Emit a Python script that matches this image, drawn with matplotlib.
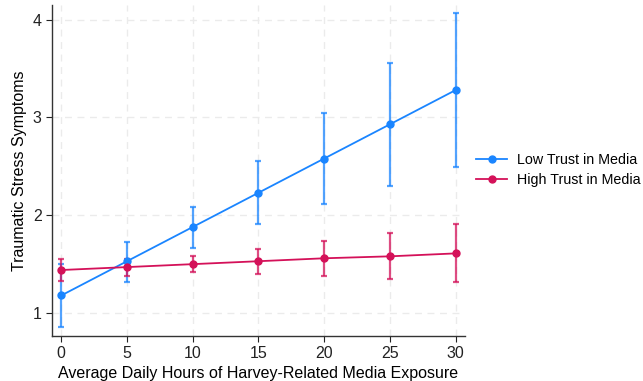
import matplotlib
matplotlib.use("Agg")
import matplotlib.pyplot as plt
import numpy as np

plt.rcParams['font.family'] = ['Liberation Sans', 'DejaVu Sans']

hours = [0, 5, 10, 15, 20, 25, 30]
low_mean = [1.18, 1.53, 1.88, 2.23, 2.58, 2.93, 3.28]
low_lo = [0.86, 1.32, 1.67, 1.91, 2.11, 2.30, 2.49]
low_hi = [1.50, 1.73, 2.08, 2.55, 3.05, 3.56, 4.07]
high_mean = [1.44, 1.47, 1.50, 1.53, 1.56, 1.58, 1.61]
high_lo = [1.33, 1.38, 1.42, 1.40, 1.38, 1.35, 1.32]
high_hi = [1.55, 1.55, 1.58, 1.65, 1.74, 1.82, 1.91]

blue = '#1a85ff'
red = '#d41159'

fig = plt.figure(figsize=(6.43, 3.81), dpi=100)
ax = fig.add_axes([0.081, 0.118, 0.642, 0.869])

for mean, lo, hi, col, lab in [(low_mean, low_lo, low_hi, blue, 'Low Trust in Media'),
                               (high_mean, high_lo, high_hi, red, 'High Trust in Media')]:
    m = np.array(mean); l = np.array(lo); h = np.array(hi)
    ax.errorbar(hours, m, yerr=[m - l, h - m], fmt='none', ecolor=col, alpha=0.75,
                elinewidth=1.6, capsize=2.3, capthick=1.6, zorder=2)
    ax.plot(hours, m, '-o', color=col, lw=1.3, ms=5, label=lab, zorder=3)

ax.set_xlim(-0.7, 30.7)
ax.set_ylim(0.765, 4.15)
ax.set_xticks([0, 5, 10, 15, 20, 25, 30])
ax.set_yticks([1, 2, 3, 4])
ax.grid(True, color='#ebebeb', linestyle=(0, (5, 4)), lw=1.0)
ax.set_axisbelow(True)
for s in ['top', 'right']:
    ax.spines[s].set_visible(False)
for s in ['left', 'bottom']:
    ax.spines[s].set_color('#333333')
    ax.spines[s].set_linewidth(1.0)
ax.tick_params(direction='out', length=4, width=0.8, labelsize=11.5, colors='#222222')
ax.set_xlabel('Average Daily Hours of Harvey-Related Media Exposure', fontsize=11.5, labelpad=3)
ax.set_ylabel('Traumatic Stress Symptoms', fontsize=11.5, labelpad=4)

ax.legend(loc='center left', bbox_to_anchor=(476 / 643, 1 - 170 / 381),
          bbox_transform=fig.transFigure, frameon=False, fontsize=10.3,
          borderaxespad=0, borderpad=0,
          handlelength=2.2, handletextpad=0.7, labelspacing=0.45)

fig.savefig('out.png', dpi=100)
